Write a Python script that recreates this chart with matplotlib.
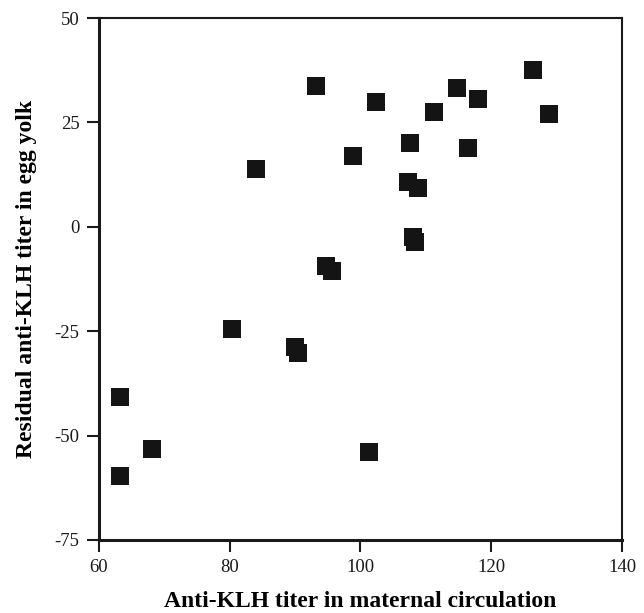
import matplotlib
matplotlib.use("Agg")
import matplotlib.pyplot as plt

# anti-KLH titer in maternal circulation vs residual titer in egg yolk
maternal = [93.2, 102.4, 111.3, 114.8, 118.0, 126.4, 128.8, 98.8, 107.6, 116.4,
            107.2, 108.8, 108.1, 108.4, 94.8, 95.7, 84.0, 80.4, 90.0, 90.5,
            63.2, 68.1, 63.2, 101.3]
residual = [33.7, 29.9, 27.4, 33.2, 30.6, 37.5, 26.9, 17.0, 20.0, 18.8,
            10.7, 9.4, -2.5, -3.7, -9.4, -10.6, 13.8, -24.5, -28.8, -30.2,
            -40.7, -53.2, -59.6, -53.9]

xticks = [60, 80, 100, 120, 140]
yticks = [-75, -50, -25, 0, 25, 50]

plt.rcParams['font.family'] = ['Liberation Serif', 'DejaVu Serif']

fig = plt.figure(figsize=(6.44, 6.13), dpi=100)
ax = fig.add_axes([0.1537, 0.1191, 0.8121, 0.8515])

ax.plot(maternal, residual, 's', color='#141414', markersize=13,
        markeredgewidth=0, linestyle='none')

ax.set_xlim(60, 140)
ax.set_ylim(-75, 50)
ax.set_xticks(xticks)
ax.set_yticks(yticks)
ax.set_xticklabels([str(v) for v in xticks])
ax.set_yticklabels([str(v) for v in yticks])

for side in ['left', 'bottom']:
    ax.spines[side].set_linewidth(2.2)
for side in ['top', 'right']:
    ax.spines[side].set_linewidth(1.5)
for s in ax.spines.values():
    s.set_color('#1a1a1a')

ax.tick_params(direction='out', length=8.5, width=1.5, labelsize=13.5,
               pad=5.5, colors='#1a1a1a')

ax.set_xlabel('Anti-KLH titer in maternal circulation', fontsize=17,
              fontweight='bold', va='baseline')
ax.xaxis.set_label_coords(0.5, -0.128)
ax.set_ylabel('Residual anti-KLH titer in egg yolk', fontsize=17,
              fontweight='bold', va='center')
ax.yaxis.set_label_coords(-0.1386, 0.5)

fig.savefig('out.png', dpi=100)
